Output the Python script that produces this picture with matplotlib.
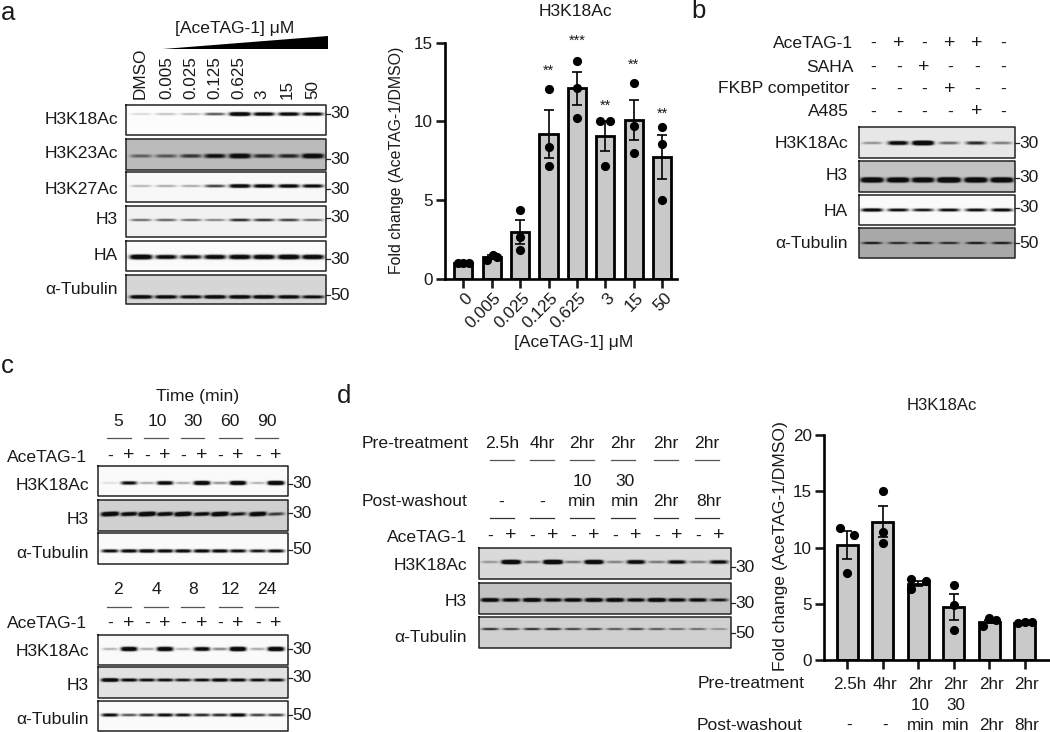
import numpy as np
import matplotlib
matplotlib.use("Agg")
import matplotlib.pyplot as plt
from matplotlib.transforms import ScaledTranslation

plt.rcParams['font.family'] = ['Liberation Sans', 'DejaVu Sans']

# ---------- data: panel a ----------
a_doses = ['0', '0.005', '0.025', '0.125', '0.625', '3', '15', '50']
a_means = [1.0, 1.4, 3.0, 9.2, 12.1, 9.1, 10.1, 7.75]
a_sems = [0.03, 0.1, 0.75, 1.5, 1.05, 0.95, 1.25, 1.4]
a_points = [[1.0, 1.0, 1.0], [1.2, 1.55, 1.4], [1.84, 2.64, 4.38], [7.17, 8.4, 12.03],
            [10.23, 12.15, 13.83], [10.04, 7.17, 10.04], [8.0, 9.7, 12.43], [5.0, 8.54, 9.62]]
a_offsets = [[-0.2, 0, 0.2], [-0.17, 0.03, 0.2], [0, 0, 0], [0, 0, 0],
             [0, 0, 0], [-0.18, 0, 0.18], [0, 0, 0], [0, 0, 0]]
a_stars = ['', '', '', '**', '***', '**', '**', '**']
a_star_values = [0, 0, 0, 13.2, 15.1, 11.0, 13.6, 10.5]
a_lanes = ['DMSO', '0.005', '0.025', '0.125', '0.625', '3', '15', '50']
a_k18 = [.15, .25, .3, .7, 1.6, 1.3, 1.3, 1.2]
a_k23 = [.55, .6, .8, 1.1, 1.4, .9, .9, 1.4]
a_k27 = [.3, .35, .35, .8, 1.4, 1.3, 1.3, 1.2]
a_h3 = [.6, .65, .6, .5, .9, .85, .8, .6]
a_ha = [1.6, 1.2, 1.1, 1.3, 1.4, 1.4, 1.5, 1.4]
a_tub = [1.5, 1.4, 1.3, 1.5, 1.5, 1.5, 1.4, 1.2]

# ---------- data: panel b ----------
b_treatments = ['AceTAG-1', 'SAHA', 'FKBP competitor', 'A485']
b_acetag = ['-', '+', '-', '+', '+', '-']
b_saha = ['-', '-', '+', '-', '-', '-']
b_fkbp = ['-', '-', '-', '+', '-', '-']
b_a485 = ['-', '-', '-', '-', '+', '-']
b_k18 = [.4, 1.3, 2.2, .6, .9, .5]
b_h3 = [1.8, 1.7, 1.6, 2.2, 1.9, 1.8]
b_ha = [1.3, 1.1, 1.0, 1.1, 1.1, 1.2]
b_tub = [1.0, .9, 1.0, .9, 1.0, 1.0]

# ---------- data: panel c ----------
c_minutes = ['5', '10', '30', '60', '90']
c_hours = ['2', '4', '8', '12', '24']
c_pm = ['-', '+'] * 5
c1_k18 = [.12, 1.1, .35, 1.3, .35, 1.6, .45, 1.6, .3, 1.8]
c1_h3 = [1.8, 1.3, 1.9, 1.3, 1.7, 1.2, 1.8, 1.0, 1.6, .8]
c1_tub = [1.1, 1.2, 1.3, 1.2, 1.2, 1.2, 1.2, 1.1, 1.0, 1.1]
c2_k18 = [.3, 1.5, .35, 1.5, .3, 1.3, .5, 1.7, .35, 1.6]
c2_h3 = [1.6, 1.2, 1.1, 1.1, 1.0, 1.1, 1.3, 1.2, 1.1, 1.1]
c2_tub = [1.1, .7, .9, 1.1, 1.0, .9, .9, 1.2, .8, .8]

# ---------- data: panel d ----------
d_pre = ['2.5h', '4hr', '2hr', '2hr', '2hr', '2hr']
d_post = ['-', '-', '10\nmin', '30\nmin', '2hr', '8hr']
d_pm = ['-', '+'] * 6
d_k18 = [.35, 2.2, .5, 2.4, .5, 1.9, .45, 1.4, .5, 1.2, .5, 1.2]
d_h3 = [1.5, 1.3, 1.6, 1.3, 1.4, 1.6, 1.6, 1.3, 1.7, 1.3, 1.3, 1.0]
d_tub = [.9, .8, .9, .9, .8, .8, .7, .8, .7, .6, .6, .4]
d_means = [10.2, 12.3, 6.8, 4.75, 3.4, 3.3]
d_sems = [1.25, 1.4, 0.25, 1.15, 0.15, 0.05]
d_points = [[11.76, 7.7, 11.1], [10.4, 11.4, 15.0], [7.2, 6.3, 7.0],
            [2.67, 4.9, 6.67], [3.0, 3.7, 3.55], [3.3, 3.4, 3.35]]
d_offsets = [[-0.2, 0, 0.2], [0, 0, 0], [-0.2, -0.2, 0.22], [0, 0, 0],
             [-0.18, 0, 0.2], [-0.2, 0, 0.2]]
d_tick_labels = ['2.5h\n\n-', '4hr\n\n-', '2hr\n10\nmin', '2hr\n30\nmin', '2hr\n\n2hr', '2hr\n\n8hr']

W, H = 1050, 732
INK = '#1a1a1a'
fig = plt.figure(figsize=(W / 100, H / 100), dpi=100)
px = fig.add_axes([0, 0, 1, 1])
px.axis('off')


def T(x, y, s, ha='center', va='center', size=12.6, **kw):
    px.text(x, y, s, ha=ha, va=va, fontsize=size, color=INK, **kw)


def PM(x, y, m):
    T(x, y, m, size=14 if m == '+' else 12.4)


def blot(x0, x1, y0, y1, lanes, vals, band_y, bg, width, thick, mw=None, mw_y=None, tilt=0.0):
    """Render one blot strip: a background shade with one soft band per lane."""
    ss = 3
    xs = np.linspace(x0, x1, int((x1 - x0) * ss))
    ys = np.linspace(y0, y1, int((y1 - y0) * ss))
    X, Y = np.meshgrid(xs, ys)
    dark = np.zeros_like(X)
    for lane, v in zip(lanes, vals):
        hw = width / 2
        fx = np.exp(-((X - lane) / hw) ** 4)
        sig = thick * (0.6 + 0.4 * min(v, 1.5))
        fy = np.exp(-np.abs((Y - band_y - tilt * (X - lane)) / sig) ** 3)
        dark = np.maximum(dark, np.clip(v * fx * fy, 0, 1))
    img = bg - (bg - 12) * dark
    px.imshow(img, cmap='gray', vmin=0, vmax=255, extent=(x0, x1, y1, y0),
              aspect='auto', interpolation='bilinear', zorder=1)
    px.plot([x0, x1, x1, x0, x0], [y0, y0, y1, y1, y0], color='#222222', lw=1.1, zorder=2)
    if mw is not None:
        yy = mw_y if mw_y is not None else band_y
        px.plot([x1, x1 + 4], [yy, yy], color='#222222', lw=0.9)
        T(x1 + 4.5, yy, mw, ha='left')


def bars(left, right, y_base, y_top, ymax, x0_px, step, means, sems, points, offsets, width, yticks):
    ax = fig.add_axes([left / W, 1 - y_base / H, (right - left) / W, (y_base - y_top) / H])
    ax.patch.set_alpha(0)
    ax.set_xlim((left - x0_px) / step, (right - x0_px) / step)
    ax.set_ylim(0, ymax)
    pos = np.arange(len(means))
    ax.bar(pos, means, width=width, color='#c9c9c9', edgecolor='black', linewidth=2.0, zorder=1)
    ax.errorbar(pos, means, yerr=sems, fmt='none', ecolor='black', elinewidth=1.2,
                capsize=3.9, capthick=1.2, zorder=2)
    for i, (ps, os_) in enumerate(zip(points, offsets)):
        ax.plot(i + np.array(os_), ps, 'o', color='black', ms=6.6, mew=0, zorder=3, clip_on=False)
    for s in ('top', 'right'):
        ax.spines[s].set_visible(False)
    for s in ('left', 'bottom'):
        ax.spines[s].set_linewidth(1.9)
    ax.set_yticks(yticks)
    ax.set_xticks(pos)
    ax.tick_params(width=1.9, length=6.5, labelsize=12.3, colors=INK, pad=2)
    return ax


# ---------- panel letters ----------
for xx, yy, s in [(1, 13, 'a'), (691, 11, 'b'), (1, 366, 'c'), (337, 396, 'd')]:
    T(xx, yy, s, ha='left', size=18.5)

# ---------- panel a blots ----------
a_x = [141, 166, 191, 215, 240, 264, 289, 313]
for s, lx in zip(a_lanes, [140, 167, 191, 215, 239, 262, 287, 313]):
    T(lx, 99, s, va='bottom', rotation=90, size=12.3)
T(235, 28, '[AceTAG-1] μM')
px.fill([163, 328, 328], [49, 36, 49], color='black', lw=0)
blot(126, 326, 105, 135, a_x, a_k18, 114, 252, 21, 1.6, '30', 114)
blot(126, 326, 139, 170, a_x, a_k23, 156, 188, 22, 2.1, '30', 159)
blot(126, 326, 172, 202, a_x, a_k27, 186, 248, 21, 1.6, '30', 189)
blot(126, 326, 206, 237, a_x, a_h3, 220, 242, 21, 1.5, '30', 218)
blot(126, 326, 241, 271, a_x, a_ha, 257, 250, 22, 2.0, '30', 259)
blot(126, 326, 275, 304, a_x, a_tub, 297, 214, 22, 1.5, '50', 295)
for s, yy in zip(['H3K18Ac', 'H3K23Ac', 'H3K27Ac', 'H3', 'HA', 'α-Tubulin'],
                 [120, 154, 189, 220, 256, 289]):
    T(118, yy, s, ha='right')

# ---------- panel a bars ----------
ax_a = bars(445, 677, 279, 42.7, 15, 463.3, 28.4, a_means, a_sems, a_points, a_offsets, 0.64,
            [0, 5, 10, 15])
ax_a.set_xticklabels(a_doses, rotation=45, ha='right', va='center', rotation_mode='anchor')
shift = ScaledTranslation(7 / 100, -5 / 100, fig.dpi_scale_trans)
for lab in ax_a.get_xticklabels():
    lab.set_transform(lab.get_transform() + shift)
for i, (s, v) in enumerate(zip(a_stars, a_star_values)):
    if s:
        ax_a.text(i, v, s, ha='center', va='center', fontsize=10.5, color=INK)
T(575, 12, 'H3K18Ac')
T(397, 160, 'Fold change (AceTAG-1/DMSO)', rotation=90, size=11.4)
T(574, 343, '[AceTAG-1] μM')

# ---------- panel b ----------
b_x = [872, 898, 923, 949, 976, 1002]
for s, yy, rx, marks in zip(b_treatments, [43, 67, 89, 112], [853, 854, 850, 849],
                            [b_acetag, b_saha, b_fkbp, b_a485]):
    T(rx, yy, s, ha='right')
    for lx, m in zip(b_x, marks):
        PM(lx + 1, yy, m)
blot(859, 1015, 127, 158, b_x, b_k18, 143, 232, 20, 1.8, '30', 143)
blot(859, 1015, 161, 192, b_x, b_h3, 180, 196, 22, 2.1, '30', 178)
blot(859, 1015, 195, 225, b_x, b_ha, 210, 250, 21, 1.5, '30', 208)
blot(859, 1015, 228, 258, b_x, b_tub, 243, 168, 20, 1.2, '50', 243)
for s, yy in zip(['H3K18Ac', 'H3', 'HA', 'α-Tubulin'], [143, 176, 211, 244]):
    T(848, yy, s, ha='right')

# ---------- panel c ----------
c_x = [110, 129, 147, 165, 183, 202, 220, 238, 258, 276]
c_num_x = [118, 157, 193, 230, 267]
c_line = [(107, 131), (144, 168), (181, 204), (219, 242), (255, 278)]
T(198, 396, 'Time (min)')
for labels, num_y, line_y, ace_y in [(c_minutes, 422, 438, 457), (c_hours, 590, 607, 624)]:
    for s, lx in zip(labels, c_num_x):
        T(lx, num_y, s)
    for a_, b_ in c_line:
        px.plot([a_, b_], [line_y, line_y], color='#555555', lw=0.9)
    T(87, ace_y, 'AceTAG-1', ha='right')
    for lx, m in zip(c_x, c_pm):
        PM(lx, ace_y - 1, m)
blot(98, 288, 466, 496, c_x, c1_k18, 483, 250, 16, 1.7, '30', 484)
blot(98, 288, 500, 531, c_x, c1_h3, 514, 208, 17, 1.8, '30', 513, tilt=-0.04)
blot(98, 288, 533, 564, c_x, c1_tub, 551, 250, 17, 1.6, '50', 550)
blot(98, 288, 635, 665, c_x, c2_k18, 649, 250, 16, 1.8, '30', 649)
blot(98, 288, 667, 698, c_x, c2_h3, 680, 226, 17, 1.5, '30', 678)
blot(98, 288, 701, 731, c_x, c2_tub, 715, 250, 17, 1.6, '50', 715)
for s, y1, y2 in [('H3K18Ac', 485, 652), ('H3', 519, 686), ('α-Tubulin', 553, 720)]:
    T(89, y1, s, ha='right')
    T(89, y2, s, ha='right')

# ---------- panel d blots ----------
d_x = [490, 511, 532, 553, 573, 594, 615, 636, 657, 677, 698, 719]
d_head_x = [502, 542, 582, 623, 666, 707]
T(362, 443, 'Pre-treatment', ha='left')
T(362, 502, 'Post-washout', ha='left')
for s, lx in zip(d_pre, d_head_x):
    T(lx, 443, s)
for s, lx in zip(d_post, [501, 542, 582, 625, 666, 709]):
    if '\n' in s:
        top, bottom = s.split('\n')
        T(lx, 481, top)
        T(lx, 502, bottom)
    else:
        T(lx, 502, s)
for lx in d_head_x:
    px.plot([lx - 12, lx + 12], [460, 460], color='#555555', lw=0.9)
    px.plot([lx - 12, lx + 12], [518, 518], color='#333333', lw=0.9)
T(467, 537, 'AceTAG-1', ha='right')
for lx, m in zip(d_x, d_pm):
    PM(lx, 536, m)
blot(479, 731, 548, 579, d_x, d_k18, 562, 218, 18, 1.7, '30', 567)
blot(479, 731, 583, 614, d_x, d_h3, 600, 196, 18, 1.6, '30', 603)
blot(479, 731, 617, 648, d_x, d_tub, 629, 208, 17, 1.2, '50', 633)
for s, yy in zip(['H3K18Ac', 'H3', 'α-Tubulin'], [566, 601, 638]):
    T(467, yy, s, ha='right')

# ---------- panel d bars ----------
ax_d = bars(824, 1050, 660, 435, 20, 847.3, 35.5, d_means, d_sems, d_points, d_offsets, 0.6,
            [0, 5, 10, 15, 20])
ax_d.set_xticklabels(d_tick_labels, linespacing=1.44, va='top')
ax_d.tick_params(axis='x', pad=6)
shift_d = ScaledTranslation(2 / 100, 0, fig.dpi_scale_trans)
for lab in ax_d.get_xticklabels():
    lab.set_transform(lab.get_transform() + shift_d)
T(942, 405, 'H3K18Ac', size=12)
T(781, 546, 'Fold change (AceTAG-1/DMSO)', rotation=90, size=12.6)
T(805, 684, 'Pre-treatment', ha='right')
T(803, 726, 'Post-washout', ha='right')

px.set_xlim(0, W)
px.set_ylim(H, 0)
fig.savefig('out.png', dpi=100)
